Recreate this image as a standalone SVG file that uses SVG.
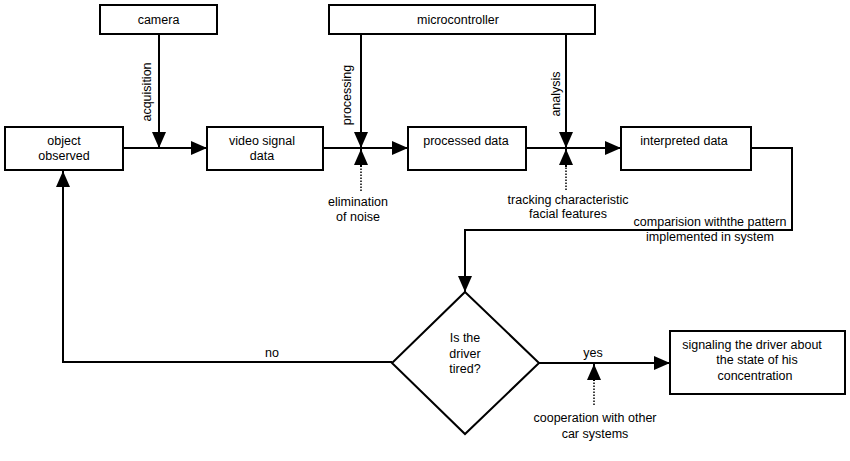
<svg xmlns="http://www.w3.org/2000/svg" width="850" height="461" viewBox="0 0 850 461">
<style>
.box{fill:#fff;stroke:#000;stroke-width:2}
.ln{fill:none;stroke:#000;stroke-width:2}
.dot{fill:none;stroke:#000;stroke-width:1.5;stroke-dasharray:1.5 1.5}
text{font-family:"Liberation Sans",Arial,sans-serif;font-size:12.5px;fill:#000;text-anchor:middle}
</style>
<defs>
<marker id="ah" markerUnits="userSpaceOnUse" markerWidth="16" markerHeight="14" refX="16" refY="7" orient="auto" viewBox="0 0 16 14">
<path d="M0,0 L16,7 L0,14 z" fill="#000"/>
</marker>
</defs>
<rect width="850" height="461" fill="#fff"/>
<g id="connectors">
<path class="ln" d="M159,34 V148" marker-end="url(#ah)"/>
<path class="ln" d="M123,148 H207" marker-end="url(#ah)"/>
<path class="ln" d="M361,34 V148" marker-end="url(#ah)"/>
<path class="dot" d="M361,191 V166"/>
<path class="ln" d="M361,167 V149" stroke-width="0.1" marker-end="url(#ah)"/>
<path class="ln" d="M323,148 H408" marker-end="url(#ah)"/>
<path class="ln" d="M566,34 V148" marker-end="url(#ah)"/>
<path class="dot" d="M566,190 V166"/>
<path class="ln" d="M566,167 V149" stroke-width="0.1" marker-end="url(#ah)"/>
<path class="ln" d="M526,148 H621" marker-end="url(#ah)"/>
<path class="ln" d="M751,148 H792 V230 H465 V292" marker-end="url(#ah)"/>
<path class="ln" d="M392,362 H63 V171" marker-end="url(#ah)"/>
<path class="ln" d="M539,363 H670" marker-end="url(#ah)"/>
<path class="dot" d="M594,405 V380"/>
<path class="ln" d="M594,381 V364" stroke-width="0.1" marker-end="url(#ah)"/>
<text transform="translate(151,92) rotate(-90)">acquisition</text>
<text transform="translate(351,95) rotate(-90)">processing</text>
<text transform="translate(560,94) rotate(-90)">analysis</text>
<text x="358" y="206">elimination</text>
<text x="358" y="221">of noise</text>
<text x="568" y="204">tracking characteristic</text>
<text x="568" y="218">facial features</text>
<text x="710" y="226">comparision withthe pattern</text>
<text x="710" y="241">implemented in system</text>
<text x="272" y="357">no</text>
<text x="593" y="357">yes</text>
<text x="595" y="422">cooperation with other</text>
<text x="595" y="438">car systems</text>
</g>
<g id="camera">
<rect class="box" x="100" y="5" width="117" height="29"/>
<text x="158.5" y="24">camera</text>
</g>
<g id="microcontroller">
<rect class="box" x="329" y="5" width="266" height="29"/>
<text x="458" y="24">microcontroller</text>
</g>
<g id="object">
<rect class="box" x="5" y="127" width="118" height="43"/>
<text x="64" y="145">object</text>
<text x="64" y="160">observed</text>
</g>
<g id="video">
<rect class="box" x="207" y="127" width="116" height="43"/>
<text x="262" y="145">video signal</text>
<text x="262" y="160">data</text>
</g>
<g id="processed">
<rect class="box" x="408" y="127" width="118" height="43"/>
<text x="466" y="145">processed data</text>
</g>
<g id="interpreted">
<rect class="box" x="621" y="127" width="130" height="43"/>
<text x="684" y="145">interpreted data</text>
</g>
<g id="decision">
<polygon class="box" points="465,292 539,363 465,434 392,363"/>
<text x="465" y="342">Is the</text>
<text x="465" y="358">driver</text>
<text x="465" y="373">tired?</text>
</g>
<g id="signaling">
<rect class="box" x="670" y="331" width="175" height="63"/>
<text x="752" y="349">signaling the driver about</text>
<text x="757" y="364">the state of his</text>
<text x="755" y="380">concentration</text>
</g>
</svg>
